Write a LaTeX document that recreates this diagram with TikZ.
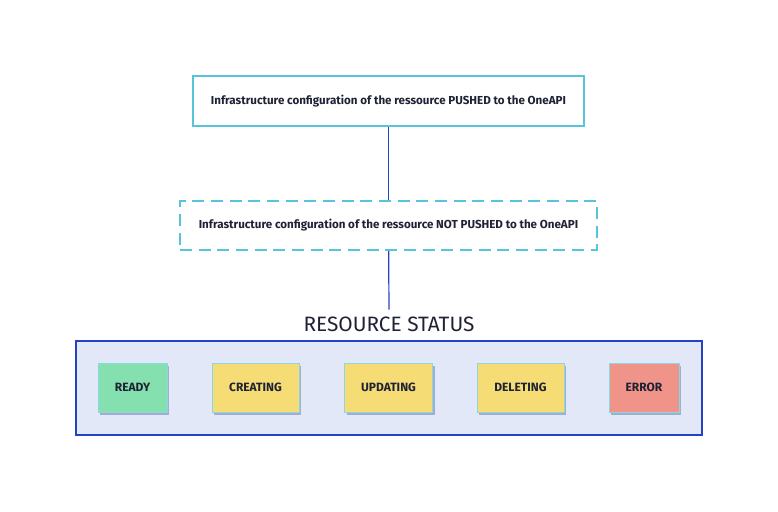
\documentclass[tikz,border=0pt]{standalone}
\usepackage{fontspec}
\setmainfont{Fira Sans}
\usepackage{xcolor}
\definecolor{lineBlue}{HTML}{2742C0}
\definecolor{cyanEdge}{HTML}{56C5DA}
\definecolor{panelBg}{HTML}{E2E8F8}
\definecolor{textDark}{HTML}{1F2234}
\definecolor{readyGreen}{HTML}{84E0AE}
\definecolor{busyYellow}{HTML}{F5DC74}
\definecolor{errorRed}{HTML}{F0948A}
\definecolor{shadowGrey}{HTML}{A3AECB}
\usetikzlibrary{positioning,shadows}
\tikzset{%
  configBox/.style={%
    rectangle,
    draw=cyanEdge,
    line width=1.5pt,
    fill=white,
    text=textDark,
    minimum width=293pt,
    minimum height=37.5pt,
    align=center,
    font=\bfseries\fontsize{8.7}{10}\selectfont
  },
  pendingBox/.style={%
    configBox,
    dash pattern=on 9pt off 5pt,
    minimum width=312.75pt,
    minimum height=36.75pt
  },
  statusPanel/.style={%
    rectangle,
    draw=lineBlue,
    line width=1.1pt,
    fill=panelBg,
    minimum width=469.5pt,
    minimum height=70.5pt
  },
  statusTag/.style={%
    rectangle,
    draw=cyanEdge!70,
    line width=0.6pt,
    text=textDark,
    minimum height=36.75pt,
    font=\bfseries\fontsize{9}{10}\selectfont,
    drop shadow={shadow xshift=1.8pt, shadow yshift=-2.4pt, fill=shadowGrey, opacity=1}
  },
  linkLine/.style={%
    draw=lineBlue,
    line width=0.9pt
  }
}
\begin{document}
\begin{tikzpicture}[x=0.75pt,y=-0.75pt]
  \useasboundingbox (0,0) rectangle (778,511);
  \node[configBox] (pushed) at (388.5,101) {Infrastructure configuration of the ressource PUSHED to the OneAPI};
  \node[pendingBox] (notpushed) at (388.5,225.5) {Infrastructure configuration of the ressource NOT PUSHED to the OneAPI};
  \node[statusPanel] (panel) at (389,388) {};
  \node[text=textDark, font=\fontsize{15.6}{18}\selectfont, inner sep=0pt] (title) at (389,324) {RESOURCE STATUS};

  \node[statusTag, fill=readyGreen, minimum width=51.75pt] (ready) at (132.5,387.5) {READY};
  \node[statusTag, fill=busyYellow, minimum width=65.25pt] (creating) at (255.5,387.5) {CREATING};
  \node[statusTag, fill=busyYellow, minimum width=66pt] (updating) at (388.5,387.5) {UPDATING};
  \node[statusTag, fill=busyYellow, minimum width=65.25pt] (deleting) at (520.5,387.5) {DELETING};
  \node[statusTag, fill=errorRed, minimum width=52.5pt] (error) at (644,387.5) {ERROR};

  \draw[linkLine] (pushed) -- (notpushed);
  \draw[linkLine] (notpushed) -- ([yshift=5pt]title.north);
\end{tikzpicture}
\end{document}
